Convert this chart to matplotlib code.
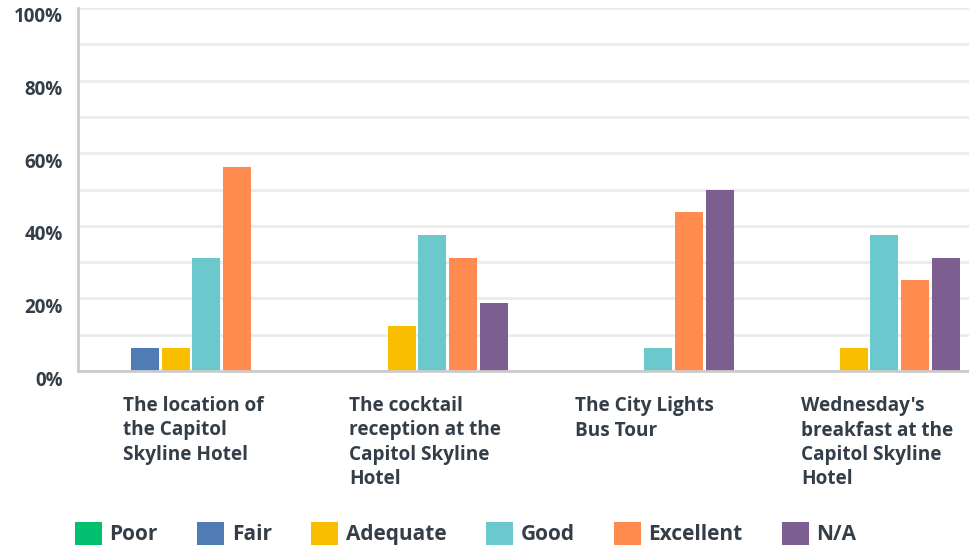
import numpy as np
import matplotlib.pyplot as plt
import matplotlib.transforms as mtrans
from matplotlib.patches import Patch

# survey answers, percent of respondents
questions = ["The location of\nthe Capitol\nSkyline Hotel",
             "The cocktail\nreception at the\nCapitol Skyline\nHotel",
             "The City Lights\nBus Tour",
             "Wednesday's\nbreakfast at the\nCapitol Skyline\nHotel"]
ratings = ["Poor", "Fair", "Adequate", "Good", "Excellent", "N/A"]
colors = ["#00bf6f", "#507cb6", "#f9be00", "#6bc8cd", "#ff8b4f", "#7d5e90"]

poor = [0, 0, 0, 0]
fair = [6.25, 0, 0, 0]
adequate = [6.25, 12.5, 0, 6.25]
good = [31.25, 37.5, 6.25, 37.5]
excellent = [56.25, 31.25, 43.75, 25.0]
na = [0, 18.75, 50.0, 31.25]
values = [poor, fair, adequate, good, excellent, na]

yticks = [0, 20, 40, 60, 80, 100]
text_col = "#333e48"

plt.rcParams['font.family'] = ['Open Sans', 'DejaVu Sans']

fig = plt.figure(figsize=(9.69, 5.47), dpi=100)
ax = fig.add_axes([78 / 969, 1 - 371 / 547, 1 - 78 / 969, 363 / 547])

x = np.arange(len(questions))
step = 0.1354
width = 0.124
for k, (lab, vals, c) in enumerate(zip(ratings, values, colors)):
    ax.bar(x + (k - 2.5) * step, vals, width, color=c, label=lab, zorder=3)

ax.set_ylim(0, 100)
ax.set_xlim(-0.5, 3.442)
ax.set_yticks(yticks)
ax.set_yticklabels([f"{t}%" for t in yticks])
ax.set_yticks(np.arange(0, 101, 10), minor=True)
ax.yaxis.grid(True, which='both', color="#ebebeb", linewidth=2, zorder=0)
ax.tick_params(axis='y', which='both', length=0, pad=11, labelsize=13.5,
               labelcolor=text_col)
shift = mtrans.ScaledTranslation(0, -7 / 100, fig.dpi_scale_trans)
for t in ax.get_yticklabels():
    t.set_fontweight('bold')
    t.set_transform(t.get_transform() + shift)

ax.set_xticks(x - 0.30)
ax.set_xticklabels(questions, ha='left', va='top', fontsize=13.7,
                   fontweight='bold', color=text_col, linespacing=1.3)
ax.tick_params(axis='x', length=0, pad=18)

for s in ['top', 'right']:
    ax.spines[s].set_visible(False)
for s in ['left', 'bottom']:
    ax.spines[s].set_color("#cccccc")
    ax.spines[s].set_linewidth(2)
    ax.spines[s].set_zorder(4)

handles = [Patch(facecolor=c, label=l) for l, c in zip(ratings, colors)]
leg = fig.legend(handles=handles, loc='upper left', ncol=6,
                 bbox_to_anchor=(75 / 969, 1 - 522 / 547), frameon=False,
                 fontsize=15, handlelength=1.3, handleheight=1.3,
                 handletextpad=0.35, columnspacing=1.9, borderpad=0,
                 borderaxespad=0)
for t in leg.get_texts():
    t.set_color(text_col)
    t.set_fontweight('bold')

fig.savefig("out.png", dpi=100)
